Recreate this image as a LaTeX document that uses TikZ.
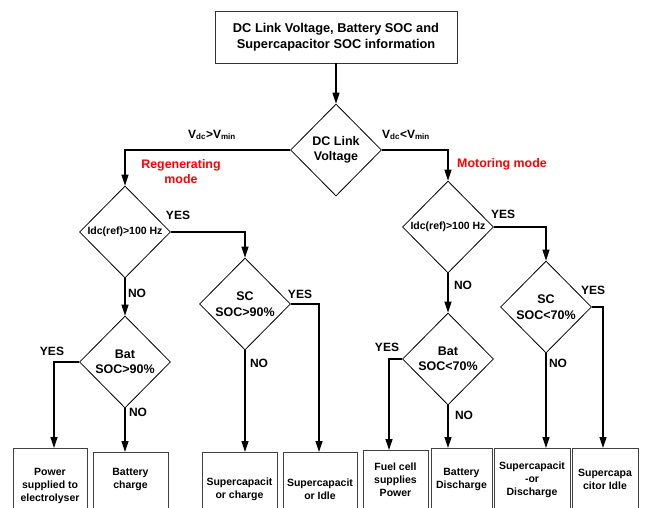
\documentclass[tikz,border=0pt]{standalone}
\usepackage{fontspec}
\setmainfont{Liberation Sans}
\usetikzlibrary{shapes.geometric,arrows.meta}
\begin{document}
\begin{tikzpicture}[x=1pt,y=-1pt,
  dia/.style={draw, line width=0.8pt, diamond, aspect=1, inner sep=0pt, minimum width=91pt, minimum height=92pt, align=center, font=\fontsize{12.5}{15.5}\selectfont\bfseries},
  diasmall/.style={dia, font=\fontsize{10.5}{13}\selectfont\bfseries},
  topbox/.style={draw=black!80, line width=0.9pt, minimum width=242pt, minimum height=52pt, inner sep=0pt, align=center, font=\fontsize{12.8}{16}\selectfont\bfseries},
  outbox/.style={draw=black!75, line width=1pt, anchor=north, inner sep=0pt},
  outtext/.style={align=center, inner sep=0pt, font=\fontsize{10.5}{13}\selectfont\bfseries},
  lbl/.style={inner sep=0pt, font=\fontsize{12}{14}\selectfont\bfseries},
  redlbl/.style={inner sep=0pt, text=red, align=center, font=\fontsize{12.4}{15}\selectfont\bfseries},
  arr/.style={line width=1.2pt, -{Triangle[length=11pt,width=7pt]}}
]
\useasboundingbox (0,0) rectangle (645,507);
\clip (0,0) rectangle (645,507);

% top box
\node[topbox] (top) at (336,37) {DC Link Voltage, Battery SOC and\\Supercapacitor SOC information};

% decisions
\node[dia] (d1) at (336,150) {DC Link\\Voltage};
\node[diasmall] (d2) at (125,232) {Idc(ref)>100 Hz};
\node[dia] (d3) at (245,304) {SC\\SOC>90\%};
\node[dia] (d4) at (125,362) {Bat\\SOC>90\%};
\node[diasmall] (d5) at (448,227) {Idc(ref)>100 Hz};
\node[dia] (d6) at (546,307) {SC\\SOC<70\%};
\node[dia] (d7) at (448,359) {Bat\\SOC<70\%};

% output boxes
\node[outbox, minimum width=74pt, minimum height=82pt] (b1) at (50,448) {};
\node[outbox, minimum width=75pt, minimum height=78pt] (b2) at (130.5,452) {};
\node[outbox, minimum width=75pt, minimum height=78pt] (b3) at (239.5,452) {};
\node[outbox, minimum width=74pt, minimum height=78pt] (b4) at (320,452) {};
\node[outbox, minimum width=65pt, minimum height=80pt] (b5) at (395.5,450) {};
\node[outbox, minimum width=61pt, minimum height=82pt] (b6) at (461.5,448) {};
\node[outbox, minimum width=76pt, minimum height=82pt] (b7) at (532,448) {};
\node[outbox, minimum width=66pt, minimum height=82pt] (b8) at (605,448) {};

\node[outtext] (t1) at ([yshift=-38pt]b1.north) {Power\\supplied to\\electrolyser};
\node[outtext] (t2) at ([yshift=-27pt]b2.north) {Battery\\charge};
\node[outtext] (t3) at ([yshift=-37pt]b3.north) {Supercapacit\\or charge};
\node[outtext] (t4) at ([yshift=-37pt]b4.north) {Supercapacit\\or Idle};
\node[outtext] (t5) at ([yshift=-30pt]b5.north) {Fuel cell\\supplies\\Power};
\node[outtext] (t6) at ([yshift=-31pt]b6.north) {Battery\\Discharge};
\node[outtext] (t7) at ([yshift=-32pt]b7.north) {Supercapacit\\-or\\Discharge};
\node[outtext] (t8) at ([yshift=-31pt]b8.north) {Supercapa\\citor Idle};

% connectors
\draw[arr] (top) -- (d1);
\draw[arr] (d1.west) -| (d2.north);
\draw[arr] (d1.east) -| (d5.north);
\draw[arr] (d2.east) -| (d3.north);
\draw[arr] (d2.south) -- (d4.north);
\draw[arr] (d4.west) -| ([xshift=4pt]b1.north);
\draw[arr] (d4.south) -- (d4.south |- b2.north);
\draw[arr] (d3.south) -- (d3.south |- b3.north);
\draw[arr] (d3.east) -| ([xshift=-1pt]b4.north);
\draw[arr] (d5.east) -| (d6.north);
\draw[arr] (d5.south) -- (d7.north);
\draw[arr] (d7.west) -| ([xshift=-6.5pt]b5.north);
\draw[arr] (d7.south) -- (d7.south |- b6.north);
\draw[arr] (d6.south) -- (d6.south |- b7.north);
\draw[arr] (d6.east) -| ([xshift=-2pt]b8.north);

% labels
\node[lbl] (vgt) at (212,135) {V\textsubscript{dc}>V\textsubscript{min}};
\node[lbl] (vlt) at (406,135) {V\textsubscript{dc}<V\textsubscript{min}};
\node[redlbl] (regen) at (181,171.5) {Regenerating\\mode};
\node[redlbl] (motor) at (502,164) {Motoring mode};

\node[lbl] (y2) at (178,215) {YES};
\node[lbl] (n2) at (137,293) {NO};
\node[lbl] (y3) at (300,294) {YES};
\node[lbl] (n3) at (259,363) {NO};
\node[lbl] (y4) at (52,351) {YES};
\node[lbl] (n4) at (138,412) {NO};
\node[lbl] (y5) at (503,214) {YES};
\node[lbl] (n5) at (463,285) {NO};
\node[lbl] (y6) at (593,290) {YES};
\node[lbl] (n6) at (558,363) {NO};
\node[lbl] (y7) at (387,347) {YES};
\node[lbl] (n7) at (464,415) {NO};
\end{tikzpicture}
\end{document}
